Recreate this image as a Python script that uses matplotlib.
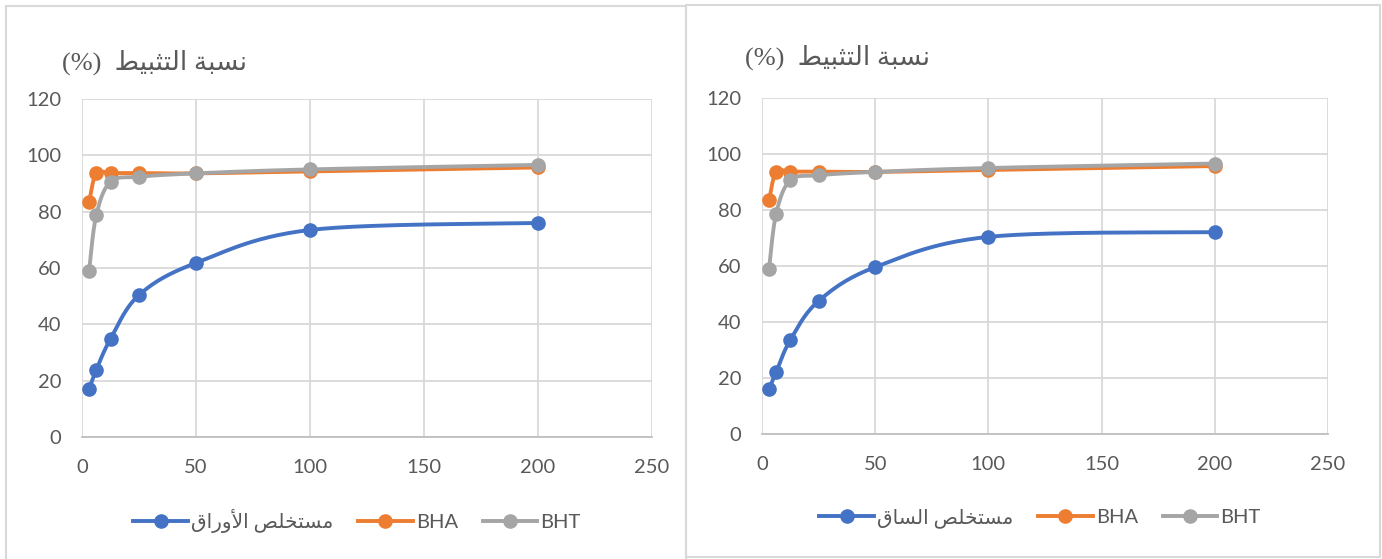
import numpy as np
import matplotlib.pyplot as plt
from matplotlib.lines import Line2D
from matplotlib.patches import Rectangle

# concentrations (x) and inhibition % (y)
conc = [3.125, 6.25, 12.5, 25, 50, 100, 200]
leaf = [17.0, 23.8, 34.8, 50.4, 61.8, 73.5, 76.0]
stem = [16.1, 22.1, 33.6, 47.5, 59.6, 70.4, 72.1]
bha = [83.5, 93.6, 93.7, 93.7, 93.6, 94.3, 95.7]
bht = [59.1, 78.7, 90.6, 92.4, 93.6, 95.0, 96.6]

xticks = [0, 50, 100, 150, 200, 250]
yticks = [0, 20, 40, 60, 80, 100, 120]

# Arabic text written in shaped presentation forms, visual order
title_ar = '(%)  ' + '\uFEC2\uFEF4\uFE92\uFE9C\uFE98\uFEDF\uFE8D \uFE94\uFE92\uFEB4\uFEE7'
leaf_label = '\uFED5\uFE8D\uFEAD\uFEED\uFEF7\uFE8D \uFEBA\uFEE0\uFEA8\uFE98\uFEB4\uFEE3'
stem_label = '\uFED5\uFE8E\uFEB4\uFEDF\uFE8D \uFEBA\uFEE0\uFEA8\uFE98\uFEB4\uFEE3'

BLUE, ORANGE, GRAY = '#4472C4', '#ED7D31', '#A5A5A5'
TXT = '#595959'
SERIF = ['Liberation Serif', 'DejaVu Sans']
SANS = ['Lato', 'DejaVu Sans']


def smooth(x, y, n=30):
    # Excel-like smoothed line (cubic Bezier through the points)
    P = np.column_stack([x, y]).astype(float)
    out = [P[0]]
    t = np.linspace(0, 1, n)[1:, None]
    for i in range(len(P) - 1):
        p0 = P[i - 1] if i > 0 else P[i]
        p3 = P[i + 2] if i + 2 < len(P) else P[i + 1]
        p1, p2 = P[i], P[i + 1]
        c1 = p1 + (p2 - p0) / 6
        c2 = p2 - (p3 - p1) / 6
        seg = (1 - t)**3 * p1 + 3 * (1 - t)**2 * t * c1 + 3 * (1 - t) * t**2 * c2 + t**3 * p2
        out.extend(seg)
    out = np.array(out)
    return out[:, 0], out[:, 1]


fig = plt.figure(figsize=(13.82, 5.59), dpi=100)
W, H = 1382, 559

# chart borders
fig.add_artist(Rectangle((6 / W, -0.01), 680 / W, 1.01 - 6 / H, transform=fig.transFigure,
                         fill=False, ec='#D9D9D9', lw=1.5))
fig.add_artist(Rectangle((686 / W, 1 - 557 / H), 694 / W, 552 / H, transform=fig.transFigure,
                         fill=False, ec='#D9D9D9', lw=1.5))

panels = [
    (leaf, leaf_label, [82 / W, 1 - 437 / H, 570 / W, 338 / H], (62, 62), (357, 521)),
    (stem, stem_label, [762 / W, 1 - 434 / H, 566 / W, 336 / H], (745, 57), (1040, 518)),
]

for ext, lab, rect, tpos, lpos in panels:
    ax = fig.add_axes(rect)
    handles = []
    for ys, c, name in [(ext, BLUE, lab), (bha, ORANGE, 'BHA'), (bht, GRAY, 'BHT')]:
        sx, sy = smooth(conc, ys)
        ax.plot(sx, sy, color=c, lw=2.8, solid_capstyle='round', clip_on=False)
        ax.plot(conc, ys, 'o', color=c, ms=9.5, clip_on=False)
        handles.append(Line2D([], [], color=c, lw=2.8, marker='o', ms=9.5, label=name))
    ax.set_xlim(0, 250)
    ax.set_ylim(0, 120)
    ax.set_xticks(xticks)
    ax.set_yticks(yticks)
    ax.grid(True, color='#D9D9D9', lw=1.3)
    ax.set_axisbelow(True)
    for s in ['top', 'right', 'left']:
        ax.spines[s].set_visible(False)
    ax.spines['bottom'].set_color('#BFBFBF')
    ax.spines['bottom'].set_linewidth(1.3)
    ax.tick_params(length=0, labelsize=14.5, labelcolor=TXT)
    ax.tick_params(axis='x', pad=16)
    ax.tick_params(axis='y', pad=15)
    for tl in ax.get_xticklabels() + ax.get_yticklabels():
        tl.set_family(SANS)

    fig.text(tpos[0] / W, 1 - tpos[1] / H, title_ar, family=SERIF, fontsize=19,
             color=TXT, ha='left', va='center')

    leg = fig.legend(handles=handles, loc='center', bbox_to_anchor=(lpos[0] / W, 1 - lpos[1] / H),
                     ncol=3, frameon=False, handlelength=2.7, handletextpad=0.15,
                     columnspacing=1.25, fontsize=14.5, labelcolor=TXT)
    leg.get_texts()[0].set_family(SERIF)
    for t in leg.get_texts()[1:]:
        t.set_family(SANS)

fig.savefig('out.png', dpi=100, facecolor='white')
